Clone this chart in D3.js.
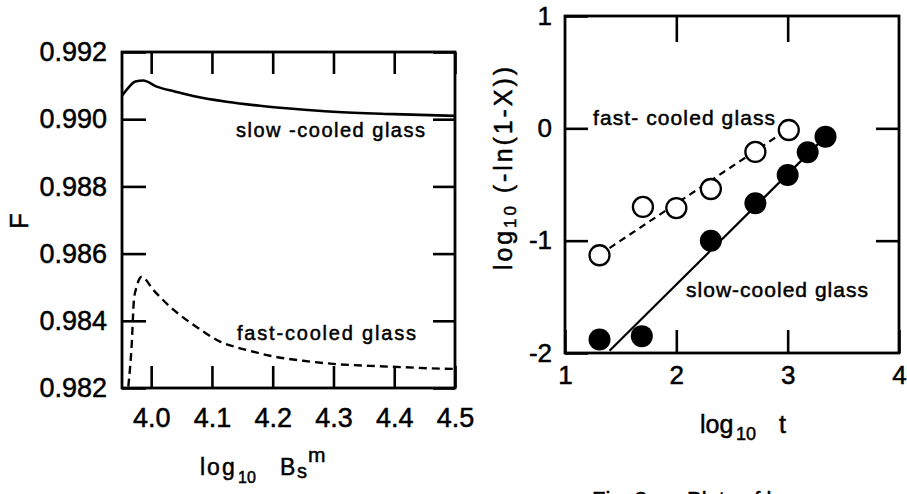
<!DOCTYPE html>
<meta charset="utf-8">
<script src="https://d3js.org/d3.v7.min.js"></script>
<style>
  body { margin: 0; background: #fff; }
  text { font-family: "Liberation Sans", Arial, sans-serif; fill: #000; stroke: #000; stroke-width: 0.5px; }
</style>
<div id="chart"></div>
<script>
// ---- data ----
// left panel: F against log10 Bs^m
var slowB = [3.952, 3.963, 3.974, 3.987, 4.009, 4.04, 4.069, 4.124, 4.179, 4.233, 4.3, 4.4, 4.5];
var slowF = [0.99070, 0.99095, 0.99112, 0.99115, 0.99097, 0.99082, 0.99069, 0.99052, 0.99040, 0.99031, 0.99022, 0.99015, 0.99010];
var fastB = [3.9624, 3.968, 3.9717, 3.9762, 3.9844, 4.0035, 4.031, 4.0585, 4.0858, 4.1133, 4.1407, 4.1681, 4.1955, 4.2503, 4.3053, 4.3601, 4.4149, 4.4972, 4.5];
var fastF = [0.98204, 0.98330, 0.98463, 0.98502, 0.98531, 0.98492, 0.98442, 0.98402, 0.98368, 0.98338, 0.98321, 0.98308, 0.98296, 0.98281, 0.98271, 0.98266, 0.98262, 0.98257, 0.98257];
var xTicksL = [4.0, 4.1, 4.2, 4.3, 4.4, 4.5];
var yTicksL = [0.982, 0.984, 0.986, 0.988, 0.990, 0.992];

// right panel: log10(-ln(1-X)) against log10 t
var openT = [1.31, 1.70, 2.00, 2.31, 2.71, 3.01];
var openY = [-1.13, -0.70, -0.71, -0.54, -0.21, -0.015];
var filledT = [1.31, 1.69, 2.31, 2.71, 3.00, 3.18, 3.34];
var filledY = [-1.88, -1.85, -1.00, -0.667, -0.415, -0.213, -0.074];
var fastFitT = [1.31, 3.01], fastFitY = [-1.125, -0.003];
var slowFitT = [1.40, 3.34], slowFitY = [-1.98, -0.074];
var xTicksR = [1, 2, 3, 4];
var yTicksR = [-2, -1, 0, 1];

var svg = d3.select("#chart").append("svg")
    .attr("width", 907)
    .attr("height", 494);

// scales
var xL = d3.scaleLinear().domain([3.952, 4.5]).range([122, 455]);
var yL = d3.scaleLinear().domain([0.982, 0.992]).range([388, 52]);
var xR = d3.scaleLinear().domain([1, 4]).range([565, 899]);
var yR = d3.scaleLinear().domain([-2, 1]).range([353, 16]);

function styleAxis(g, size) {
  g.select(".domain").remove();
  g.selectAll("line").attr("stroke", "#000").attr("stroke-width", 2.6);
  g.selectAll("text").style("font-size", size + "px").attr("fill", "#000");
}

// ---- left panel ----
svg.append("g").attr("transform", "translate(0,388)")
  .call(d3.axisBottom(xL).tickValues(xTicksL).tickSize(-22).tickSizeOuter(0)
        .tickPadding(20).tickFormat(d3.format(".1f")))
  .call(styleAxis, 27);
svg.append("g").attr("transform", "translate(0,52)")
  .call(d3.axisTop(xL).tickValues(xTicksL).tickSize(-22).tickSizeOuter(0).tickFormat(""))
  .call(styleAxis, 27);
svg.append("g").attr("transform", "translate(122,0)")
  .call(d3.axisLeft(yL).tickValues(yTicksL).tickSize(-24).tickSizeOuter(0)
        .tickPadding(15).tickFormat(d3.format(".3f")))
  .call(styleAxis, 27);
svg.append("g").attr("transform", "translate(455,0)")
  .call(d3.axisRight(yL).tickValues(yTicksL).tickSize(-22).tickSizeOuter(0).tickFormat(""))
  .call(styleAxis, 27);

svg.append("rect")
  .attr("x", xL.range()[0]).attr("y", yL.range()[1])
  .attr("width", xL.range()[1] - xL.range()[0])
  .attr("height", yL.range()[0] - yL.range()[1])
  .attr("fill", "none").attr("stroke", "#000").attr("stroke-width", 2.8);

var lineL = d3.line()
  .x(function(d) { return xL(d[0]); })
  .y(function(d) { return yL(d[1]); })
  .curve(d3.curveMonotoneX);

svg.append("path")
  .datum(d3.zip(slowB, slowF))
  .attr("d", lineL)
  .attr("fill", "none").attr("stroke", "#000").attr("stroke-width", 2.6);

svg.append("path")
  .datum(d3.zip(fastB, fastF))
  .attr("d", lineL)
  .attr("fill", "none").attr("stroke", "#000").attr("stroke-width", 2.4)
  .attr("stroke-dasharray", "8,5");

svg.append("text").attr("x", 236).attr("y", 137)
  .attr("textLength", 189).style("font-size", "20px")
  .text("slow -cooled glass");
svg.append("text").attr("x", 237).attr("y", 340)
  .attr("textLength", 179).style("font-size", "20px")
  .text("fast-cooled glass");

// axis titles
svg.append("text")
  .attr("transform", "translate(28,221) rotate(-90)")
  .attr("text-anchor", "middle")
  .style("font-size", "26px")
  .text("F");

var tl = svg.append("text").attr("y", 475).style("font-size", "23px");
tl.append("tspan").attr("x", 200).attr("letter-spacing", "2px").text("log");
tl.append("tspan").attr("x", 238).attr("dy", 8).style("font-size", "16px").text("10");
tl.append("tspan").attr("x", 280).attr("dy", -8).text("B");
tl.append("tspan").attr("x", 297).attr("dy", 3).style("font-size", "20px").text("s");
tl.append("tspan").attr("x", 308).attr("dy", -16).style("font-size", "21px").text("m");

// ---- right panel ----
function plainNum(d) { return String(d); }

svg.append("g").attr("transform", "translate(0,353)")
  .call(d3.axisBottom(xR).tickValues(xTicksR).tickSize(-23).tickSizeOuter(0)
        .tickPadding(13).tickFormat(plainNum))
  .call(styleAxis, 26);
svg.append("g").attr("transform", "translate(0,16)")
  .call(d3.axisTop(xR).tickValues([2, 3]).tickSize(-26).tickSizeOuter(0).tickFormat(""))
  .call(styleAxis, 26);
svg.append("g").attr("transform", "translate(565,0)")
  .call(d3.axisLeft(yR).tickValues(yTicksR).tickSize(-23).tickSizeOuter(0)
        .tickPadding(13).tickFormat(plainNum))
  .call(styleAxis, 26);
svg.append("g").attr("transform", "translate(899,0)")
  .call(d3.axisRight(yR).tickValues([-1, 0]).tickSize(-23).tickSizeOuter(0).tickFormat(""))
  .call(styleAxis, 26);

svg.append("rect")
  .attr("x", xR.range()[0]).attr("y", yR.range()[1])
  .attr("width", xR.range()[1] - xR.range()[0])
  .attr("height", yR.range()[0] - yR.range()[1])
  .attr("fill", "none").attr("stroke", "#000").attr("stroke-width", 2.8);

var lineR = d3.line()
  .x(function(d) { return xR(d[0]); })
  .y(function(d) { return yR(d[1]); });

svg.append("path")
  .datum(d3.zip(fastFitT, fastFitY))
  .attr("d", lineR)
  .attr("fill", "none").attr("stroke", "#000").attr("stroke-width", 2.2)
  .attr("stroke-dasharray", "7,5");
svg.append("path")
  .datum(d3.zip(slowFitT, slowFitY))
  .attr("d", lineR)
  .attr("fill", "none").attr("stroke", "#000").attr("stroke-width", 2.2);

svg.selectAll(".open")
  .data(d3.zip(openT, openY))
  .enter().append("circle")
    .attr("class", "open")
    .attr("cx", function(d) { return xR(d[0]); })
    .attr("cy", function(d) { return yR(d[1]); })
    .attr("r", 10)
    .attr("fill", "#fff").attr("stroke", "#000").attr("stroke-width", 2.3);

svg.selectAll(".filled")
  .data(d3.zip(filledT, filledY))
  .enter().append("circle")
    .attr("class", "filled")
    .attr("cx", function(d) { return xR(d[0]); })
    .attr("cy", function(d) { return yR(d[1]); })
    .attr("r", 11)
    .attr("fill", "#000");

svg.append("text").attr("x", 593).attr("y", 125)
  .attr("textLength", 182).style("font-size", "21px")
  .text("fast- cooled glass");
svg.append("text").attr("x", 686).attr("y", 297)
  .attr("textLength", 182).style("font-size", "21px")
  .text("slow-cooled glass");

var tr = svg.append("text").attr("y", 433).style("font-size", "25px");
tr.append("tspan").attr("x", 700).text("log");
tr.append("tspan").attr("x", 736).attr("dy", 7).style("font-size", "18px").text("10");
tr.append("tspan").attr("x", 779).attr("dy", -7).text("t");

var ty = svg.append("text")
  .attr("transform", "translate(512,270) rotate(-90)")
  .attr("textLength", 203)
  .style("font-size", "25px");
ty.append("tspan").text("log");
ty.append("tspan").attr("dy", 4).style("font-size", "17px").text("10");
ty.append("tspan").attr("dy", -4).text(" (-ln(1-X))");

// caption, cut off by the bottom edge
svg.append("text").attr("x", 592).attr("y", 507).style("font-size", "22px").text("Fig. 3.");
svg.append("text").attr("x", 687).attr("y", 507).style("font-size", "22px").text("Plots of log");
</script>
